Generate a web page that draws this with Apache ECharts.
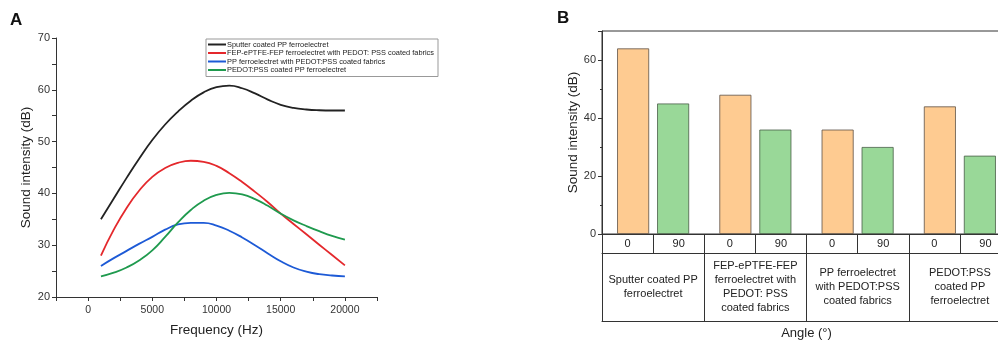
<!DOCTYPE html>
<html>
<head>
<meta charset="utf-8">
<script src="https://cdn.jsdelivr.net/npm/echarts@6/dist/echarts.min.js"></script>
<style>
  html, body { margin: 0; padding: 0; background: #fff; }
  #chart { width: 998px; height: 342px; }
</style>
</head>
<body>
<div id="chart"></div>
<script>
// panel A: frequency response curves (read every 1 kHz)
const seriesNames = [
  'Sputter coated PP ferroelectret',
  'FEP-ePTFE-FEP ferroelectret with PEDOT: PSS coated fabrics',
  'PP ferroelectret with PEDOT:PSS coated fabrics',
  'PEDOT:PSS coated PP ferroelectret'
];
const lineColors = ['#222222', '#e4282c', '#1d5ad6', '#1f9a4e'];
const frequencies = [1000, 2000, 3000, 4000, 5000, 6000, 7000, 8000, 9000, 10000,
  11000, 12000, 13000, 14000, 15000, 16000, 17000, 18000, 19000, 20000];
const sputterCurve = [35, 39, 43, 46.8, 50.3, 53.3, 55.8, 57.9, 59.5, 60.5,
  60.8, 60.3, 59.3, 58.1, 57.1, 56.5, 56.2, 56.05, 56, 56];
const fepCurve = [28, 33, 37.2, 40.6, 43.2, 44.9, 45.9, 46.3, 46.1, 45.3,
  43.9, 42.2, 40.3, 38.3, 36.1, 34.1, 32.1, 30.1, 28.1, 26.1];
const ppCurve = [26, 27.5, 28.9, 30.3, 31.6, 33.0, 34.0, 34.3, 34.3, 33.8,
  32.8, 31.5, 30.0, 28.4, 26.9, 25.7, 24.9, 24.4, 24.15, 24];
const pedotCurve = [24, 24.7, 25.7, 27.1, 29.0, 31.6, 34.4, 36.8, 38.6, 39.7,
  40.1, 39.8, 38.9, 37.6, 36.1, 34.8, 33.7, 32.7, 31.8, 31.1];
const curves = [sputterCurve, fepCurve, ppCurve, pedotCurve];

// panel B: sound intensity at 0 and 90 degrees
const groupLabels = [
  'Sputter coated PP\nferroelectret',
  'FEP-ePTFE-FEP\nferroelectret with\nPEDOT: PSS\ncoated fabrics',
  'PP ferroelectret\nwith PEDOT:PSS\ncoated fabrics',
  'PEDOT:PSS\ncoated PP\nferroelectret'
];
const angleLabels = ['0', '90', '0', '90', '0', '90', '0', '90'];
const angle0 = [64, 48, 36, 44];
const angle90 = [45, 36, 30, 27];

const font = 'Liberation Sans, Arial, sans-serif';
const axisColor = '#333';

const chart = echarts.init(document.getElementById('chart'), null, { renderer: 'canvas' });

const plainCat = (extra) => Object.assign({
  type: 'category',
  gridIndex: 1,
  position: 'bottom',
  data: groupLabels,
  axisLine: { show: true, onZero: false, lineStyle: { color: axisColor, width: 1 } },
  axisTick: { show: false },
  axisLabel: { show: false },
  splitLine: { show: false }
}, extra);

chart.setOption({
  backgroundColor: '#fff',
  textStyle: { fontFamily: font },
  graphic: [
    { type: 'text', left: 10, top: 12, style: { text: 'A', font: 'bold 17px ' + font, fill: '#111' } },
    { type: 'text', left: 557, top: 10, style: { text: 'B', font: 'bold 17px ' + font, fill: '#111' } }
  ],
  legend: {
    data: seriesNames,
    orient: 'vertical',
    left: 206,
    top: 39,
    padding: [2, 4, 3, 2],
    itemGap: 1.5,
    itemWidth: 18,
    itemHeight: 2,
    icon: 'rect',
    borderColor: '#999',
    borderWidth: 1,
    textStyle: { fontSize: 7.4, color: '#222', padding: [0, 0, 0, -4] }
  },
  grid: [
    { left: 56, top: 38, width: 321, height: 259, outerBoundsMode: 'none' },
    { left: 602, top: 31, width: 409, height: 203, outerBoundsMode: 'none', show: true, borderColor: axisColor, borderWidth: 1 }
  ],
  xAxis: [
    {
      type: 'value',
      gridIndex: 0,
      min: -2500, max: 22500, interval: 2500,
      name: 'Frequency (Hz)',
      nameLocation: 'middle',
      nameGap: 26,
      nameTextStyle: { fontSize: 13.5, color: '#222' },
      axisLine: { onZero: false, lineStyle: { color: axisColor } },
      axisTick: { length: 4, lineStyle: { color: axisColor } },
      axisLabel: {
        fontSize: 10.5, color: '#333', margin: 8,
        formatter: v => (v % 5000 === 0 && v >= 0 && v <= 20000) ? String(v) : ''
      },
      splitLine: { show: false }
    },
    // group names row
    plainCat({
      name: 'Angle (°)',
      nameLocation: 'middle',
      nameGap: 93,
      nameTextStyle: { fontSize: 13, color: '#222' },
      axisTick: { show: true, length: 87, lineStyle: { color: axisColor } },
      axisLabel: {
        show: true, fontSize: 11, color: '#222', lineHeight: 13.7,
        margin: 53, verticalAlign: 'middle', align: 'center', interval: 0
      }
    }),
    // angle row
    plainCat({
      data: angleLabels,
      axisTick: { show: true, length: 19, lineStyle: { color: axisColor } },
      axisLabel: { show: true, fontSize: 11, color: '#222', margin: 10, verticalAlign: 'middle', interval: 0 }
    }),
    plainCat({ offset: 19 }),
    plainCat({ offset: 87 })
  ],
  yAxis: [
    {
      type: 'value',
      gridIndex: 0,
      min: 20, max: 70, interval: 5,
      name: 'Sound intensity (dB)',
      nameLocation: 'middle',
      nameGap: 23,
      nameTextStyle: { fontSize: 13.5, color: '#222' },
      axisLine: { show: true, onZero: false, lineStyle: { color: axisColor } },
      axisTick: { show: true, length: 4, lineStyle: { color: axisColor } },
      axisLabel: { fontSize: 11, color: '#333', margin: 6, formatter: v => v % 10 === 0 ? String(v) : '' },
      splitLine: { show: false }
    },
    {
      type: 'value',
      gridIndex: 1,
      min: 0, max: 70, interval: 20,
      name: 'Sound intensity (dB)',
      nameLocation: 'middle',
      nameGap: 22,
      nameTextStyle: { fontSize: 13.5, color: '#222' },
      axisLine: { show: true, onZero: false, lineStyle: { color: axisColor } },
      axisTick: { show: true, length: 4, lineStyle: { color: axisColor } },
      minorTick: { show: true, splitNumber: 2, length: 2, lineStyle: { color: axisColor } },
      axisLabel: { fontSize: 11, color: '#333', margin: 6, showMaxLabel: false },
      splitLine: { show: false },
      minorSplitLine: { show: false }
    }
  ],
  series: curves.map((vals, i) => ({
    name: seriesNames[i],
    type: 'line',
    xAxisIndex: 0,
    yAxisIndex: 0,
    data: vals.map((v, j) => [frequencies[j], v]),
    smooth: 0.5,
    showSymbol: false,
    lineStyle: { width: 1.8, color: lineColors[i] },
    itemStyle: { color: lineColors[i] }
  })).concat([
    {
      name: '0',
      type: 'bar',
      xAxisIndex: 1,
      yAxisIndex: 1,
      data: angle0,
      barWidth: 32,
      barGap: '25%',
      itemStyle: { color: '#fecb91', borderColor: '#5e5246', borderWidth: 0.8 }
    },
    {
      name: '90',
      type: 'bar',
      xAxisIndex: 1,
      yAxisIndex: 1,
      data: angle90,
      barWidth: 32,
      barGap: '25%',
      itemStyle: { color: '#99d898', borderColor: '#475e46', borderWidth: 0.8 }
    }
  ])
});
</script>
</body>
</html>
